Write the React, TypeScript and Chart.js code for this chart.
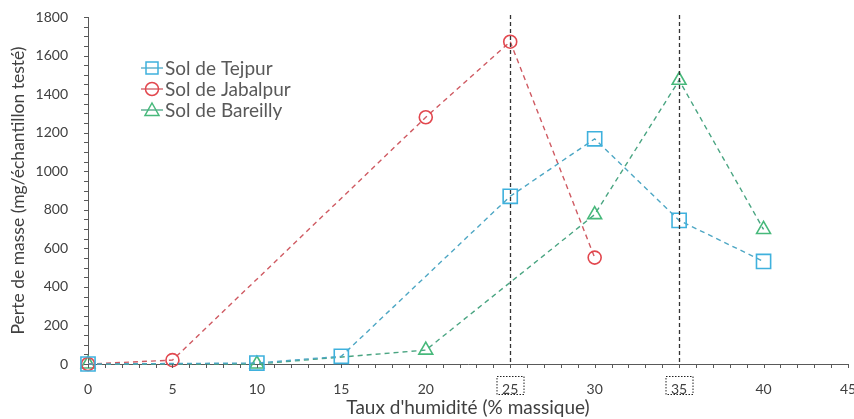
import React, { useEffect, useRef } from "react";
import { Chart, registerables } from "chart.js";

Chart.register(...registerables);

const tejpurX = [0, 10, 15, 25, 30, 35, 40];
const tejpurY = [0, 5, 40, 870, 1168, 745, 532];
const jabalpurX = [0, 5, 20, 25, 30];
const jabalpurY = [0, 20, 1280, 1672, 552];
const bareillyX = [0, 10, 20, 30, 35, 40];
const bareillyY = [0, 0, 72, 775, 1472, 698];
const seriesNames = ["Sol de Tejpur", "Sol de Jabalpur", "Sol de Bareilly"];
const markedX = [25, 35];
const xTitle = "Taux d'humidité (% massique)";
const yTitle = "Perte de masse (mg/échantillon testé)";

const FONT = "Lato, 'Open Sans', sans-serif";
const colors = ["#3fb1dd", "#e2474e", "#47b97b"];
const lineColors = ["#4ea7c4", "#cf5a62", "#4aa582"];

const zip = (xs: number[], ys: number[]) => xs.map((x, i) => ({ x, y: ys[i] }));

const decorPlugin = {
  id: "decor",
  afterDraw(chart: any) {
    const { ctx, chartArea, scales } = chart;
    const xs = scales.x;
    const ys = scales.y;
    ctx.save();
    ctx.strokeStyle = "#595959";
    ctx.lineWidth = 1;
    ctx.beginPath();
    for (let v = xs.min; v <= xs.max + 1e-9; v += 1) {
      const px = Math.round(xs.getPixelForValue(v)) + 0.5;
      ctx.moveTo(px, chartArea.bottom);
      ctx.lineTo(px, chartArea.bottom + 4);
    }
    for (let v = ys.min; v <= ys.max + 1e-9; v += 50) {
      const py = Math.round(ys.getPixelForValue(v)) + 0.5;
      ctx.moveTo(chartArea.left - 4, py);
      ctx.lineTo(chartArea.left, py);
    }
    ctx.stroke();
    markedX.forEach((v) => {
      const px = Math.round(xs.getPixelForValue(v)) + 0.5;
      ctx.strokeStyle = "#333333";
      ctx.lineWidth = 1.3;
      ctx.setLineDash([4, 3]);
      ctx.beginPath();
      ctx.moveTo(px, chartArea.top - 2);
      ctx.lineTo(px, chartArea.bottom);
      ctx.stroke();
      ctx.setLineDash([1.5, 1.5]);
      ctx.lineWidth = 1;
      ctx.strokeStyle = "#222222";
      ctx.strokeRect(px - 13.5, chartArea.bottom + 12.5, 27, 18);
    });
    ctx.setLineDash([]);
    const lx = 141;
    const ly = [68, 89, 110];
    chart.data.datasets.forEach((ds: any, i: number) => {
      const y = ly[i];
      ctx.strokeStyle = lineColors[i];
      ctx.lineWidth = 1.3;
      ctx.beginPath();
      ctx.moveTo(lx, y);
      ctx.lineTo(lx + 22, y);
      ctx.stroke();
      ctx.strokeStyle = colors[i];
      ctx.lineWidth = 1.5;
      const cx = lx + 11;
      ctx.beginPath();
      if (ds.pointStyle === "rect") {
        ctx.rect(cx - 6, y - 6, 12, 12);
      } else if (ds.pointStyle === "circle") {
        ctx.arc(cx, y, 6.5, 0, Math.PI * 2);
      } else {
        ctx.moveTo(cx, y - 7);
        ctx.lineTo(cx + 7, y + 5.5);
        ctx.lineTo(cx - 7, y + 5.5);
        ctx.closePath();
      }
      ctx.stroke();
      ctx.fillStyle = "#595959";
      ctx.font = `19px ${FONT}`;
      ctx.textBaseline = "middle";
      ctx.textAlign = "left";
      ctx.fillText(ds.label, lx + 24, y + 1);
    });
    ctx.restore();
  },
};

export default function App() {
  const ref = useRef<HTMLCanvasElement>(null);
  useEffect(() => {
    document.body.style.margin = "0";
    const mk = (i: number, xs: number[], ys: number[], style: string, r: number) => ({
      label: seriesNames[i],
      data: zip(xs, ys),
      showLine: true,
      borderColor: lineColors[i],
      borderWidth: 1.4,
      borderDash: [5, 4],
      pointStyle: style,
      pointRadius: r,
      pointBorderColor: colors[i],
      pointBackgroundColor: "rgba(0,0,0,0)",
      pointBorderWidth: 1.6,
      fill: false,
      clip: false,
    });
    const chart = new Chart(ref.current!, {
      type: "scatter",
      data: {
        datasets: [
          mk(0, tejpurX, tejpurY, "rect", 10),
          mk(1, jabalpurX, jabalpurY, "circle", 6.5),
          mk(2, bareillyX, bareillyY, "triangle", 8),
        ],
      },
      plugins: [decorPlugin],
      options: {
        animation: false,
        responsive: false,
        maintainAspectRatio: false,
        layout: { autoPadding: false, padding: { top: 17, right: 6, left: 0, bottom: 0 } },
        plugins: { legend: { display: false }, tooltip: { enabled: false } },
        scales: {
          x: {
            type: "linear",
            min: 0,
            max: 45,
            grid: { display: false },
            border: { display: true, color: "#595959", width: 1 },
            ticks: {
              stepSize: 5,
              padding: 9,
              color: "#404040",
              font: { family: FONT, size: 14 },
              autoSkip: false,
              maxRotation: 0,
              callback: (v: any) => String(v),
            },
            title: {
              display: true,
              text: xTitle,
              color: "#404040",
              font: { family: FONT, size: 19 },
              padding: { top: 0, bottom: 0 },
            },
            afterFit: (s: any) => {
              s.height = 55;
              s.paddingRight = 0;
              s.paddingLeft = 0;
            },
          },
          y: {
            min: 0,
            max: 1800,
            grid: { display: false },
            border: { display: true, color: "#595959", width: 1 },
            ticks: {
              stepSize: 200,
              padding: 12,
              color: "#404040",
              font: { family: FONT, size: 14 },
              callback: (v: any) => String(v),
            },
            title: {
              display: true,
              text: yTitle,
              color: "#404040",
              font: { family: FONT, size: 17.5 },
              padding: { top: 8, bottom: 0 },
            },
            afterFit: (s: any) => {
              s.width = 88;
              s.paddingTop = 0;
              s.paddingBottom = 0;
            },
          },
        },
      },
    } as any);
    return () => chart.destroy();
  }, []);
  return (
    <div style={{ width: 854, height: 419 }}>
      <canvas ref={ref} width={854} height={419} style={{ display: "block" }} />
    </div>
  );
}
